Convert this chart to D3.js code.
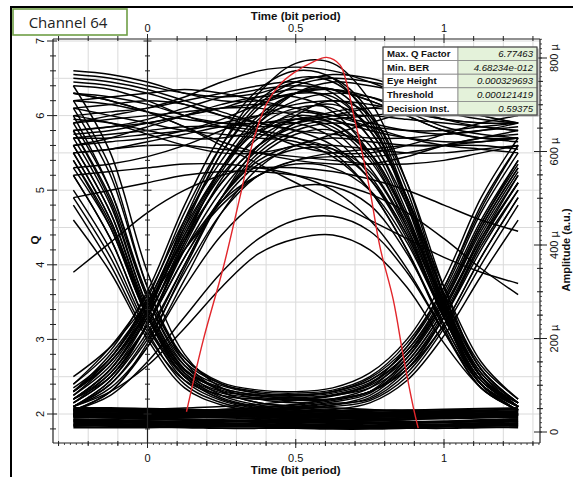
<!DOCTYPE html>
<html><head><meta charset="utf-8">
<script src="https://cdn.jsdelivr.net/npm/d3@7/dist/d3.min.js"></script>
<style>body{margin:0;background:#fff}svg{display:block}</style>
</head><body><svg id="c" width="573" height="477"></svg>
<script>
// sample instants (bit periods) shared by all eye traces
const T = [-0.25,-0.125,0,0.125,0.25,0.375,0.5,0.625,0.75,0.875,1,1.125,1.25];

// traces, Q values at each sample instant
const ones = [
[6.4,6.35,6.2,6.0,5.9,5.85,5.9,6.0,6.1,6.15,6.1,6.0,5.9],
[6.2,6.25,6.3,6.35,6.3,6.2,6.1,6.0,5.85,5.7,5.6,5.55,5.5],
[5.8,5.85,5.95,6.1,6.25,6.35,6.4,6.35,6.2,6.0,5.8,5.7,5.7],
[6.0,5.9,5.75,5.6,5.5,5.5,5.6,5.75,5.9,6.05,6.2,6.25,6.2],
[5.7,5.7,5.75,5.8,5.9,6.0,6.05,6.0,5.9,5.8,5.75,5.8,5.9],
[6.5,6.45,6.35,6.2,6.05,5.9,5.8,5.75,5.7,5.7,5.75,5.8,5.85],
[5.6,5.65,5.7,5.8,5.95,6.15,6.3,6.35,6.25,6.05,5.85,5.75,5.7],
[6.1,6.15,6.2,6.15,6.0,5.8,5.6,5.5,5.5,5.6,5.75,5.9,6.0],
[5.9,6.0,6.1,6.25,6.45,6.6,6.65,6.6,6.45,6.25,6.05,5.95,5.9],
[5.5,5.55,5.6,5.6,5.55,5.5,5.45,5.4,5.35,5.35,5.4,5.5,5.6],
[6.3,6.2,6.05,5.85,5.65,5.5,5.4,5.35,5.35,5.45,5.6,5.7,5.8],
[5.75,5.8,5.9,6.0,6.1,6.15,6.1,5.95,5.8,5.7,5.65,5.65,5.7],
[5.3,5.35,5.45,5.6,5.8,6.0,6.15,6.2,6.15,6.05,5.95,5.9,5.9],
[6.55,6.5,6.4,6.3,6.25,6.3,6.45,6.55,6.5,6.35,6.15,6.0,5.9]
];
const riseOnes = [
[2.2,2.6,3.3,4.3,5.1,5.6,5.9,6.0,6.0,5.95,5.9,5.85,5.8],
[2.1,2.45,3.1,4.0,4.9,5.5,5.8,5.9,5.85,5.8,5.8,5.85,5.9],
[2.3,2.8,3.5,4.5,5.3,5.9,6.2,6.3,6.25,6.1,5.95,5.85,5.8],
[2.05,2.3,2.9,3.8,4.7,5.3,5.6,5.7,5.65,5.6,5.6,5.65,5.7],
[2.4,2.9,3.6,4.6,5.4,6.0,6.3,6.35,6.2,6.0,5.8,5.7,5.65],
[2.15,2.55,3.2,4.1,4.9,5.4,5.6,5.6,5.55,5.5,5.5,5.55,5.6],
[2.25,2.7,3.4,4.4,5.3,5.9,6.3,6.45,6.4,6.3,6.15,6.05,6.0],
[2.1,2.4,3.0,3.9,4.7,5.2,5.4,5.45,5.45,5.5,5.6,5.7,5.75],
[2.35,2.75,3.45,4.35,5.1,5.6,5.85,5.95,6.0,6.05,6.1,6.1,6.05],
[2.2,2.5,3.2,4.2,5.0,5.55,5.9,6.05,6.1,6.05,5.95,5.9,5.9],
[2.5,2.9,3.5,4.2,4.8,5.2,5.4,5.5,5.55,5.6,5.6,5.6,5.55],
[2.3,2.75,3.5,4.55,5.5,6.1,6.4,6.5,6.45,6.35,6.25,6.2,6.15]
];
const onesFall = [
[5.9,5.95,6.0,6.05,6.1,6.1,6.0,5.8,5.3,4.5,3.4,2.5,2.1],
[6.3,6.25,6.15,6.0,5.85,5.75,5.7,5.55,5.15,4.4,3.3,2.45,2.1],
[5.6,5.7,5.85,6.0,6.15,6.25,6.25,6.05,5.5,4.6,3.5,2.6,2.15],
[6.1,6.0,5.9,5.8,5.75,5.7,5.65,5.45,5.0,4.2,3.2,2.4,2.05],
[5.8,5.85,5.9,6.0,6.1,6.25,6.35,6.2,5.7,4.8,3.6,2.65,2.2],
[6.45,6.4,6.3,6.15,6.0,5.9,5.8,5.6,5.15,4.35,3.3,2.4,2.05],
[5.7,5.75,5.8,5.85,5.85,5.8,5.7,5.5,5.0,4.2,3.15,2.35,2.05],
[6.0,6.05,6.1,6.2,6.3,6.4,6.45,6.3,5.8,4.9,3.7,2.7,2.2],
[5.5,5.55,5.65,5.75,5.85,5.9,5.9,5.7,5.2,4.4,3.35,2.5,2.1],
[6.2,6.15,6.05,5.95,5.9,5.9,5.95,5.85,5.4,4.55,3.45,2.55,2.15],
[6.6,6.55,6.45,6.3,6.2,6.2,6.3,6.25,5.8,4.9,3.6,2.6,2.15],
[5.2,5.25,5.3,5.35,5.35,5.3,5.2,5.0,4.6,3.95,3.1,2.35,2.05],
[5.95,5.9,5.8,5.7,5.7,5.8,5.95,5.9,5.5,4.65,3.5,2.55,2.1]
];
const pulses = [
[2.2,2.6,3.4,4.6,5.6,6.3,6.7,6.7,6.2,5.1,3.6,2.5,2.1],
[2.3,2.75,3.55,4.7,5.6,6.2,6.5,6.45,6.0,4.9,3.5,2.5,2.1],
[2.1,2.45,3.2,4.3,5.3,5.95,6.3,6.35,5.9,4.8,3.4,2.4,2.05],
[2.2,2.55,3.3,4.35,5.25,5.85,6.1,6.1,5.7,4.7,3.4,2.45,2.1],
[2.25,2.65,3.4,4.4,5.2,5.7,5.95,5.95,5.6,4.65,3.45,2.5,2.15],
[2.1,2.4,3.05,4.0,4.9,5.45,5.75,5.8,5.5,4.6,3.35,2.45,2.1],
[2.15,2.5,3.2,4.1,4.85,5.35,5.55,5.55,5.25,4.45,3.3,2.4,2.1],
[2.3,2.7,3.35,4.2,4.85,5.2,5.35,5.3,5.0,4.3,3.3,2.45,2.15],
[2.1,2.35,2.9,3.7,4.4,4.85,5.05,5.05,4.8,4.15,3.2,2.4,2.1],
[2.05,2.25,2.7,3.3,3.9,4.35,4.6,4.65,4.45,3.9,3.1,2.4,2.1],
[2.1,2.3,2.65,3.15,3.7,4.15,4.35,4.4,4.2,3.7,2.95,2.35,2.05],
[2.2,2.6,3.35,4.5,5.5,6.15,6.45,6.5,6.05,5.0,3.55,2.5,2.1],
[2.15,2.5,3.2,4.25,5.15,5.75,6.05,6.15,5.85,4.9,3.5,2.5,2.1],
[2.3,2.7,3.45,4.45,5.3,5.8,6.0,5.9,5.45,4.5,3.3,2.4,2.05],
[2.4,2.85,3.65,4.8,5.75,6.35,6.6,6.5,5.95,4.85,3.45,2.5,2.1],
[2.05,2.3,2.95,3.95,4.9,5.6,6.0,6.2,6.0,5.1,3.7,2.6,2.15]
];
const dips = [
[5.3,4.5,3.3,2.55,2.3,2.25,2.2,2.25,2.35,2.7,3.4,4.4,5.2],
[5.6,4.7,3.4,2.6,2.35,2.25,2.25,2.3,2.45,2.85,3.6,4.6,5.4],
[5.0,4.2,3.15,2.5,2.25,2.2,2.2,2.2,2.3,2.65,3.3,4.2,5.0],
[5.8,4.9,3.55,2.7,2.4,2.3,2.28,2.32,2.5,2.95,3.7,4.8,5.6],
[4.8,4.0,3.05,2.45,2.25,2.2,2.18,2.2,2.3,2.6,3.2,4.1,4.9],
[5.5,4.6,3.35,2.6,2.32,2.24,2.22,2.26,2.4,2.8,3.5,4.5,5.3],
[5.9,5.0,3.6,2.75,2.42,2.32,2.3,2.35,2.55,3.0,3.8,4.9,5.7],
[5.2,4.35,3.2,2.52,2.28,2.22,2.2,2.24,2.38,2.75,3.45,4.35,5.1],
[5.4,4.5,3.3,2.58,2.34,2.26,2.24,2.28,2.42,2.8,3.5,4.45,5.25],
[5.7,4.8,3.45,2.65,2.38,2.28,2.26,2.3,2.48,2.9,3.65,4.7,5.5],
[6.4,5.5,3.9,2.8,2.35,2.2,2.15,2.2,2.3,2.6,3.3,4.3,5.1],
[6.1,5.2,3.7,2.75,2.4,2.28,2.25,2.3,2.45,2.85,3.55,4.55,5.35]
];
const fallZeros = [
[5.4,4.55,3.3,2.5,2.2,2.1,2.05,2.05,2.02,2.0,2.0,1.98,1.98],
[5.8,4.85,3.45,2.6,2.25,2.12,2.08,2.05,2.05,2.03,2.02,2.0,2.0],
[4.9,4.1,3.1,2.4,2.15,2.05,2.0,1.98,1.97,1.98,2.0,2.0,1.99],
[5.6,4.7,3.35,2.55,2.22,2.1,2.05,2.02,2.0,1.98,1.97,1.97,1.98],
[6.0,5.0,3.55,2.65,2.3,2.15,2.1,2.08,2.06,2.05,2.04,2.03,2.03],
[5.2,4.35,3.2,2.45,2.18,2.07,2.02,2.0,1.99,1.99,2.0,2.01,2.0],
[5.5,4.6,3.3,2.5,2.2,2.08,2.03,2.0,1.98,1.96,1.96,1.97,1.98],
[4.6,3.9,3.0,2.35,2.12,2.04,2.0,1.99,1.98,1.98,1.99,2.0,2.0],
[6.2,5.3,3.7,2.7,2.3,2.15,2.1,2.08,2.05,2.03,2.02,2.0,2.0]
];
const zerosRise = [
[2.0,2.0,2.02,2.03,2.04,2.05,2.08,2.12,2.22,2.6,3.3,4.25,5.0],
[1.98,1.99,2.0,2.0,2.01,2.03,2.06,2.1,2.18,2.5,3.15,4.0,4.8],
[2.02,2.03,2.04,2.05,2.06,2.08,2.12,2.18,2.3,2.75,3.5,4.5,5.3],
[1.97,1.98,1.99,2.0,2.0,2.01,2.03,2.06,2.15,2.45,3.05,3.85,4.6],
[2.0,2.01,2.02,2.04,2.06,2.09,2.13,2.2,2.35,2.8,3.55,4.55,5.4],
[1.99,2.0,2.0,2.01,2.02,2.04,2.07,2.12,2.25,2.65,3.35,4.3,5.1],
[2.03,2.03,2.04,2.04,2.05,2.06,2.09,2.14,2.2,2.55,3.2,4.1,4.9],
[1.98,1.98,1.99,2.0,2.02,2.05,2.1,2.16,2.28,2.7,3.4,4.35,5.2],
[2.05,2.05,2.06,2.08,2.1,2.13,2.18,2.25,2.4,2.9,3.7,4.75,5.6]
];
const zeros = [
[2.07,2.06,2.05,2.04,2.02,2.01,2.0,2.0,2.01,2.02,2.04,2.05,2.06],
[2.04,2.05,2.05,2.03,2.0,1.98,1.97,1.97,1.98,2.0,2.02,2.03,2.04],
[2.01,2.0,1.99,1.98,1.97,1.96,1.95,1.95,1.96,1.97,1.98,2.0,2.01],
[1.98,1.99,2.0,2.01,2.0,1.98,1.96,1.94,1.94,1.95,1.97,1.98,1.98],
[1.95,1.95,1.94,1.93,1.92,1.91,1.9,1.9,1.91,1.93,1.95,1.96,1.96],
[1.92,1.93,1.94,1.95,1.95,1.94,1.92,1.9,1.89,1.89,1.9,1.92,1.93],
[1.89,1.89,1.88,1.88,1.87,1.86,1.86,1.86,1.87,1.88,1.89,1.9,1.9],
[1.86,1.86,1.87,1.88,1.88,1.87,1.85,1.84,1.84,1.85,1.86,1.87,1.87],
[1.84,1.84,1.83,1.83,1.83,1.83,1.82,1.82,1.82,1.83,1.84,1.84,1.85],
[2.06,2.04,2.02,2.01,2.01,2.02,2.03,2.03,2.02,2.0,1.99,2.0,2.02],
[2.0,2.01,2.02,2.02,2.0,1.97,1.93,1.91,1.91,1.93,1.96,1.99,2.0],
[1.97,1.96,1.95,1.96,1.97,1.98,1.97,1.95,1.92,1.9,1.9,1.91,1.93],
[1.93,1.91,1.9,1.9,1.91,1.92,1.91,1.89,1.87,1.86,1.86,1.88,1.9],
[1.9,1.91,1.92,1.92,1.91,1.89,1.87,1.85,1.84,1.84,1.85,1.86,1.88],
[1.87,1.87,1.86,1.85,1.85,1.85,1.84,1.83,1.83,1.83,1.84,1.85,1.86],
[2.03,2.03,2.04,2.04,2.03,2.0,1.98,1.96,1.96,1.97,1.99,2.01,2.03],
[1.99,1.98,1.97,1.97,1.98,1.99,1.99,1.98,1.97,1.97,1.97,1.98,1.99],
[1.96,1.97,1.98,1.99,1.98,1.96,1.94,1.92,1.92,1.93,1.94,1.95,1.95],
[1.91,1.9,1.89,1.89,1.9,1.9,1.89,1.88,1.88,1.88,1.89,1.9,1.91],
[1.85,1.85,1.85,1.86,1.86,1.85,1.83,1.81,1.81,1.82,1.83,1.84,1.84],
[1.82,1.82,1.82,1.82,1.81,1.81,1.81,1.8,1.8,1.81,1.81,1.82,1.82],
[2.08,2.08,2.07,2.06,2.05,2.04,2.03,2.03,2.04,2.05,2.06,2.07,2.08]
];
const slowTraces = [
[6.3,6.2,6.05,5.85,5.6,5.35,5.1,4.85,4.6,4.35,4.1,3.9,3.75],
[4.9,5.0,5.1,5.2,5.25,5.25,5.2,5.1,4.95,4.7,4.35,3.95,3.6],
[3.9,4.3,4.7,5.0,5.2,5.3,5.3,5.25,5.15,5.0,4.8,4.6,4.45]
];

// Q factor versus decision instant (red)
const qT = [0.1315,0.188,0.256,0.312,0.357,0.402,0.447,0.492,0.559,0.604,0.649,0.672,0.694,0.717,0.750,0.784,0.829,0.863,0.896,0.913];
const qV = [2.03,2.99,3.97,4.91,5.67,6.16,6.42,6.57,6.72,6.78,6.68,6.43,6.03,5.63,5.0,4.24,3.53,2.77,2.10,1.81];

// axes
const xMajor = [0, 0.5, 1];
const xMajorLabels = ["0", "0.5", "1"];
const qMajor = [2, 3, 4, 5, 6, 7];
const ampMajor = [0, 200, 400, 600, 800];
const ampLabels = ["0", "200 \u00b5", "400 \u00b5", "600 \u00b5", "800 \u00b5"];

// results table
const tableLabels = ["Max. Q Factor", "Min. BER", "Eye Height", "Threshold", "Decision Inst."];
const tableValues = ["6.77463", "4.68234e-012", "0.000329693", "0.000121419", "0.59375"];

const svg = d3.select("#c");
const FONT = "'Liberation Sans', Arial, sans-serif";
const L = 53, R = 540, TOP = 39, BOT = 443;
const x = d3.scaleLinear().domain([0, 1]).range([147.5, 444]);
const y = d3.scaleLinear().domain([2, 7]).range([414, 41]);
const amp = d3.scaleLinear().domain([0, 800]).range([432, 58]);

// outer frame
svg.append("line").attr("x1", 11).attr("y1", 6).attr("x2", 11).attr("y2", 477).attr("stroke", "#000").attr("stroke-width", 2);
svg.append("line").attr("x1", 10).attr("y1", 7).attr("x2", 573).attr("y2", 7).attr("stroke", "#000").attr("stroke-width", 2);

// grid
const gGrid = svg.append("g").attr("stroke", "#dadada").attr("stroke-width", 1);
d3.range(-0.3, 1.31, 0.1).forEach(v => {
  gGrid.append("line").attr("x1", x(v)).attr("x2", x(v)).attr("y1", TOP).attr("y2", BOT);
});
d3.range(2, 7.01, 0.5).forEach(v => {
  gGrid.append("line").attr("x1", L).attr("x2", R).attr("y1", y(v)).attr("y2", y(v));
});

// clip
svg.append("clipPath").attr("id", "clip").append("rect").attr("x", L).attr("y", TOP).attr("width", R - L).attr("height", BOT - TOP);
const gData = svg.append("g").attr("clip-path", "url(#clip)");

const line = d3.line().x((d, i) => x(T[i])).y(d => y(d)).curve(d3.curveCatmullRom.alpha(0.5));
gData.selectAll("path.z").data(zeros).join("path").attr("class", "z")
  .attr("d", line).attr("fill", "none").attr("stroke", "#000").attr("stroke-width", 1.9);
const allTraces = [].concat(ones, riseOnes, onesFall, pulses, dips, fallZeros, zerosRise, slowTraces);
gData.selectAll("path.tr").data(allTraces).join("path").attr("class", "tr")
  .attr("d", line).attr("fill", "none").attr("stroke", "#000").attr("stroke-width", 1.45);

// x = 0 reference line with ticks
const x0 = x(0);
svg.append("line").attr("x1", x0).attr("x2", x0).attr("y1", TOP).attr("y2", BOT).attr("stroke", "#222").attr("stroke-width", 1.2);
d3.range(1.8, 7.01, 0.2).forEach(v => {
  const major = Math.abs(v - Math.round(v)) < 1e-6;
  const s = major ? 4 : 2.5;
  svg.append("line").attr("x1", x0 - s).attr("x2", x0 + s).attr("y1", y(v)).attr("y2", y(v)).attr("stroke", "#222").attr("stroke-width", 1);
});

// red Q curve
const redLine = d3.line().x((d, i) => x(qT[i])).y(d => y(d)).curve(d3.curveCatmullRom.alpha(0.5));
gData.append("path").datum(qV).attr("d", redLine).attr("fill", "none").attr("stroke", "#e2262b").attr("stroke-width", 1.4);

// frame / axes
const ax = svg.append("g").attr("stroke", "#222").attr("stroke-width", 1.2);
ax.append("line").attr("x1", L).attr("x2", L).attr("y1", TOP).attr("y2", BOT);
ax.append("line").attr("x1", R).attr("x2", R).attr("y1", TOP).attr("y2", BOT);
ax.append("line").attr("x1", L).attr("x2", R).attr("y1", TOP).attr("y2", TOP);
ax.append("line").attr("x1", L).attr("x2", R).attr("y1", BOT).attr("y2", BOT);

// left Q axis ticks
d3.range(1.8, 7.01, 0.2).forEach(v => {
  const major = Math.abs(v - Math.round(v)) < 1e-6;
  ax.append("line").attr("x1", L - (major ? 6 : 3)).attr("x2", L + (major ? 4 : 3)).attr("y1", y(v)).attr("y2", y(v)).attr("stroke-width", 1);
});
// right amplitude axis ticks
d3.range(0, 801, 50).forEach(v => {
  const major = v % 200 === 0;
  ax.append("line").attr("x1", R - (major ? 6 : 3)).attr("x2", R + (major ? 7 : 3)).attr("y1", amp(v)).attr("y2", amp(v)).attr("stroke-width", 1);
});
d3.range(0, 851, 10).forEach(v => {
  if (amp(v) > TOP) ax.append("line").attr("x1", R).attr("x2", R + 2).attr("y1", amp(v)).attr("y2", amp(v)).attr("stroke-width", 0.8);
});
// top & bottom time axis ticks
d3.range(-0.3, 1.31, 0.1).forEach(v => {
  const major = xMajor.some(m => Math.abs(m - v) < 1e-6);
  ax.append("line").attr("x1", x(v)).attr("x2", x(v)).attr("y1", BOT - (major ? 4 : 2)).attr("y2", BOT + (major ? 5 : 3)).attr("stroke-width", 1);
  ax.append("line").attr("x1", x(v)).attr("x2", x(v)).attr("y1", TOP - (major ? 5 : 3)).attr("y2", TOP + (major ? 4 : 2)).attr("stroke-width", 1);
});
d3.range(-0.32, 1.33, 0.02).forEach(v => {
  if (x(v) > L && x(v) < R) {
    ax.append("line").attr("x1", x(v)).attr("x2", x(v)).attr("y1", BOT).attr("y2", BOT + 2).attr("stroke-width", 0.8);
  }
});

// tick labels
const tl = svg.append("g").attr("font-family", FONT).attr("font-size", 11).attr("fill", "#111");
xMajor.forEach((v, i) => {
  tl.append("text").attr("x", x(v)).attr("y", 462).attr("text-anchor", "middle").text(xMajorLabels[i]);
  tl.append("text").attr("x", x(v)).attr("y", 32).attr("text-anchor", "middle").text(xMajorLabels[i]);
});
qMajor.forEach(v => {
  tl.append("text").attr("transform", `translate(44,${y(v)}) rotate(-90)`).attr("text-anchor", "middle").text(v);
});
ampMajor.forEach((v, i) => {
  tl.append("text").attr("transform", `translate(558,${amp(v)}) rotate(-90)`).attr("text-anchor", "middle").text(ampLabels[i]);
});

// axis titles
const tt = svg.append("g").attr("font-family", FONT).attr("font-size", 11.5).attr("font-weight", "bold").attr("fill", "#111");
tt.append("text").attr("x", x(0.5)).attr("y", 20).attr("text-anchor", "middle").text("Time (bit period)");
tt.append("text").attr("x", x(0.5)).attr("y", 474).attr("text-anchor", "middle").text("Time (bit period)");
tt.append("text").attr("transform", "translate(39,240) rotate(-90)").attr("text-anchor", "middle").text("Q");
tt.append("text").attr("transform", "translate(569.5,250) rotate(-90)").attr("text-anchor", "middle").attr("font-size", 11).text("Amplitude (a.u.)");

// channel label
svg.append("rect").attr("x", 13).attr("y", 9).attr("width", 114).attr("height", 26).attr("fill", "#fff").attr("stroke", "#6f9e45").attr("stroke-width", 1.6);
svg.append("text").attr("x", 68).attr("y", 28).attr("text-anchor", "middle").attr("font-family", "'Open Sans', sans-serif").attr("font-size", 15).attr("fill", "#222").text("Channel 64");

// results table
const tx0 = 383, tx1 = 458, tx2 = 537, ty0 = 47, rh = 13.6;
const tab = svg.append("g");
tab.append("rect").attr("x", tx0 + 1.5).attr("y", ty0 + 1.5).attr("width", tx2 - tx0).attr("height", rh * tableLabels.length).attr("fill", "#9a9a9a");
tableLabels.forEach((lab, i) => {
  const yy = ty0 + i * rh;
  tab.append("rect").attr("x", tx0).attr("y", yy).attr("width", tx1 - tx0).attr("height", rh).attr("fill", "#fff").attr("stroke", "#888").attr("stroke-width", 0.8);
  tab.append("rect").attr("x", tx1).attr("y", yy).attr("width", tx2 - tx1).attr("height", rh).attr("fill", "#e4f2da").attr("stroke", "#888").attr("stroke-width", 0.8);
  tab.append("text").attr("x", tx0 + 4).attr("y", yy + rh - 3.5).attr("font-family", FONT).attr("font-size", 9.6).attr("font-weight", "bold").attr("fill", "#111").text(lab);
  tab.append("text").attr("x", tx2 - 4).attr("y", yy + rh - 3.5).attr("text-anchor", "end").attr("font-family", FONT).attr("font-size", 9.6).attr("font-style", "italic").attr("fill", "#111").text(tableValues[i]);
});
tab.append("rect").attr("x", tx0).attr("y", ty0).attr("width", tx2 - tx0).attr("height", rh * tableLabels.length).attr("fill", "none").attr("stroke", "#444").attr("stroke-width", 1);
</script></body></html>
